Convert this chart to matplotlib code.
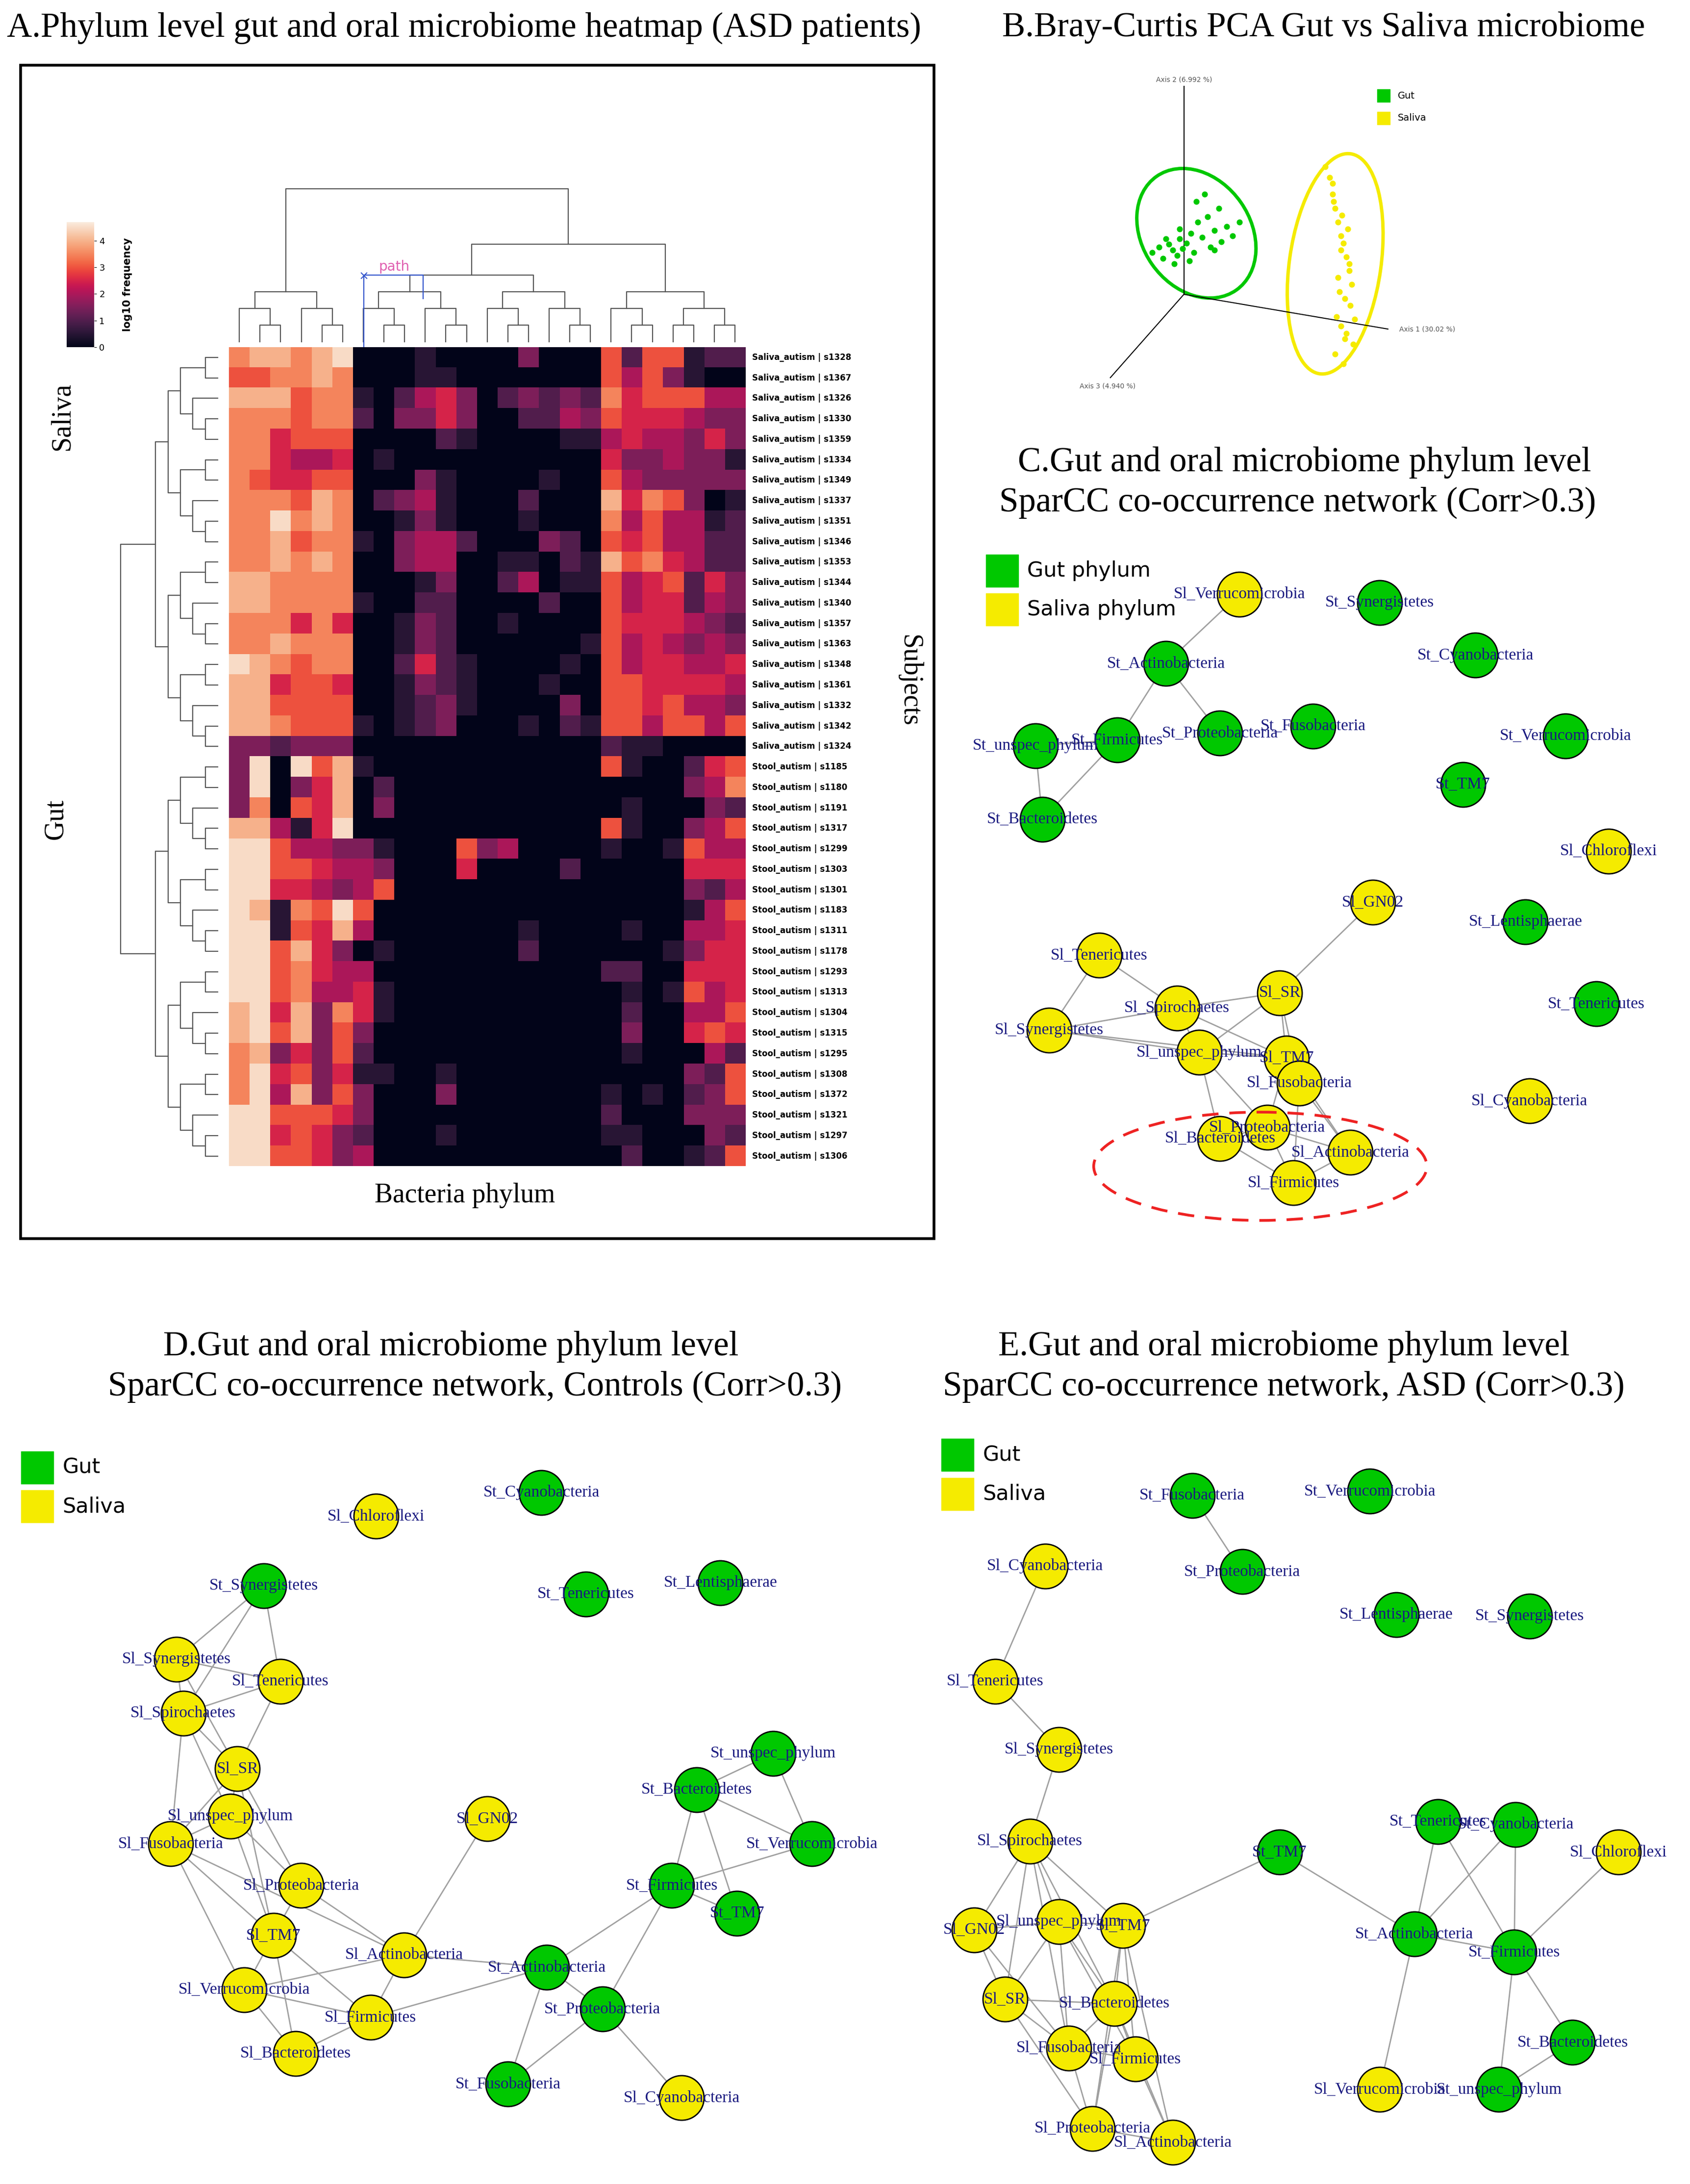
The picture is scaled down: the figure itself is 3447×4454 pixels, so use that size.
import numpy as np
import matplotlib.pyplot as plt
import seaborn as sns
from matplotlib.patches import Ellipse, Rectangle

# ---------------- data ----------------
row_labels = ["Saliva_autism | s1328", "Saliva_autism | s1367", "Saliva_autism | s1326", "Saliva_autism | s1330",
              "Saliva_autism | s1359", "Saliva_autism | s1334", "Saliva_autism | s1349", "Saliva_autism | s1337",
              "Saliva_autism | s1351", "Saliva_autism | s1346", "Saliva_autism | s1353", "Saliva_autism | s1344",
              "Saliva_autism | s1340", "Saliva_autism | s1357", "Saliva_autism | s1363", "Saliva_autism | s1348",
              "Saliva_autism | s1361", "Saliva_autism | s1332", "Saliva_autism | s1342", "Saliva_autism | s1324",
              "Stool_autism | s1185", "Stool_autism | s1180", "Stool_autism | s1191", "Stool_autism | s1317",
              "Stool_autism | s1299", "Stool_autism | s1303", "Stool_autism | s1301", "Stool_autism | s1183",
              "Stool_autism | s1311", "Stool_autism | s1178", "Stool_autism | s1293", "Stool_autism | s1313",
              "Stool_autism | s1304", "Stool_autism | s1315", "Stool_autism | s1295", "Stool_autism | s1308",
              "Stool_autism | s1372", "Stool_autism | s1321", "Stool_autism | s1297", "Stool_autism | s1306"]

# heat levels (0-9), log10 frequency = level * 0.5
heat_rows = [
    "788789000100003000" "6266122",
    "667787000110000000" "6463100",
    "888677102453023232" "7566644",
    "777677203353002243" "6555433",
    "775666000021000011" "4544353",
    "775445010000000000" "5334331",
    "765566000310000100" "6433333",
    "777687023410002000" "8576301",
    "779787001310001000" "7464412",
    "778677103442000320" "6564422",
    "778787003440011021" "8675422",
    "887777000130024011" "6456253",
    "887777100220000200" "6455243",
    "777575001320010000" "6555432",
    "778777001320000001" "6454343",
    "987677002521000010" "6455445",
    "885665001321000100" "6655554",
    "886666001231000030" "6656443",
    "887666101230001021" "6646646",
    "332333000000000000" "2110000",
    "390968100000000000" "6100256",
    "390358020000000000" "0000347",
    "370658030000000000" "0100032",
    "884159000000000000" "6100346",
    "996443310006340000" "1001644",
    "996654430005000020" "0000555",
    "995543460000000000" "0000324",
    "981769600000000000" "0000146",
    "991658400000001000" "0100445",
    "996853010000002000" "0001355",
    "996754400000000000" "2200555",
    "996744510000000000" "0101645",
    "895837510000000000" "0200446",
    "896836300000000000" "0300565",
    "783536200000000000" "0100042",
    "795635110010000000" "0000326",
    "794836300030000000" "1010236",
    "996665300000000000" "2000333",
    "995653200010000000" "1100032",
    "996653400000000000" "0200126",
]

gut_pts_x = [830, 835, 838, 842, 845, 848, 850, 852, 855, 858, 860, 863, 866, 870, 872, 875, 878, 880, 884, 888, 893, 857, 846, 862, 840, 868, 850, 875]
gut_pts_y = [182, 178, 186, 176, 180, 184, 172, 179, 175, 168, 182, 160, 171, 156, 178, 166, 150, 174, 163, 170, 160, 188, 190, 145, 172, 140, 165, 180]
sal_pts_x = [955, 958, 960, 962, 964, 966, 968, 970, 972, 974, 965, 969, 961, 967, 971, 973, 963, 966, 970, 975, 962, 968, 964, 972, 976, 960, 966, 969]
sal_pts_y = [120, 128, 140, 150, 160, 170, 175, 185, 195, 205, 210, 215, 145, 155, 165, 220, 228, 235, 240, 248, 255, 262, 200, 190, 230, 132, 180, 244]

# networks: name -> (x, y, group) ; G = gut (green), Y = saliva (yellow)
net_c = {
    "Sl_Verrucomicrobia": (893, 428, "Y"), "St_Synergistetes": (994, 434, "G"), "St_Actinobacteria": (840, 478, "G"),
    "St_Cyanobacteria": (1063, 472, "G"), "St_Firmicutes": (805, 533, "G"), "St_unspec_phylum": (746, 537, "G"),
    "St_Proteobacteria": (879, 528, "G"), "St_Fusobacteria": (946, 523, "G"), "St_Verrucomicrobia": (1128, 530, "G"),
    "St_TM7": (1054, 565, "G"), "St_Bacteroidetes": (751, 590, "G"), "Sl_Chloroflexi": (1159, 613, "Y"),
    "Sl_GN02": (989, 650, "Y"), "St_Lentisphaerae": (1099, 664, "G"), "Sl_Tenericutes": (792, 688, "Y"),
    "Sl_SR": (922, 715, "Y"), "Sl_Spirochaetes": (848, 726, "Y"), "St_Tenericutes": (1150, 723, "G"),
    "Sl_Synergistetes": (756, 742, "Y"), "Sl_unspec_phylum": (864, 758, "Y"), "Sl_TM7": (927, 762, "Y"),
    "Sl_Fusobacteria": (936, 780, "Y"), "Sl_Cyanobacteria": (1102, 793, "Y"), "Sl_Proteobacteria": (913, 812, "Y"),
    "Sl_Bacteroidetes": (879, 820, "Y"), "Sl_Actinobacteria": (973, 830, "Y"), "Sl_Firmicutes": (932, 852, "Y"),
}
edges_c = [
    ("Sl_Verrucomicrobia", "St_Actinobacteria"), ("St_Actinobacteria", "St_Firmicutes"), ("St_Actinobacteria", "St_Proteobacteria"),
    ("St_Firmicutes", "St_unspec_phylum"), ("St_unspec_phylum", "St_Bacteroidetes"), ("St_Firmicutes", "St_Bacteroidetes"),
    ("Sl_GN02", "Sl_SR"), ("Sl_Tenericutes", "Sl_Spirochaetes"), ("Sl_Tenericutes", "Sl_Synergistetes"),
    ("Sl_Spirochaetes", "Sl_SR"), ("Sl_Spirochaetes", "Sl_unspec_phylum"), ("Sl_Spirochaetes", "Sl_TM7"),
    ("Sl_Synergistetes", "Sl_unspec_phylum"), ("Sl_Synergistetes", "Sl_Spirochaetes"), ("Sl_unspec_phylum", "Sl_TM7"),
    ("Sl_unspec_phylum", "Sl_Proteobacteria"), ("Sl_unspec_phylum", "Sl_Bacteroidetes"), ("Sl_SR", "Sl_TM7"),
    ("Sl_SR", "Sl_Fusobacteria"), ("Sl_SR", "Sl_unspec_phylum"), ("Sl_TM7", "Sl_Proteobacteria"),
    ("Sl_TM7", "Sl_Actinobacteria"), ("Sl_Fusobacteria", "Sl_Actinobacteria"), ("Sl_Fusobacteria", "Sl_Firmicutes"),
    ("Sl_Proteobacteria", "Sl_Firmicutes"), ("Sl_Proteobacteria", "Sl_Bacteroidetes"), ("Sl_Proteobacteria", "Sl_Actinobacteria"),
    ("Sl_Bacteroidetes", "Sl_Firmicutes"), ("Sl_Actinobacteria", "Sl_Firmicutes"), ("Sl_Synergistetes", "Sl_TM7"),
]

net_d = {
    "Sl_Chloroflexi": (271, 1092, "Y"), "St_Cyanobacteria": (390, 1075, "G"), "St_Synergistetes": (190, 1142, "G"),
    "St_Tenericutes": (422, 1148, "G"), "St_Lentisphaerae": (519, 1140, "G"), "Sl_Synergistetes": (127, 1195, "Y"),
    "Sl_Tenericutes": (202, 1211, "Y"), "Sl_Spirochaetes": (132, 1234, "Y"), "Sl_SR": (171, 1274, "Y"),
    "St_unspec_phylum": (557, 1263, "G"), "St_Bacteroidetes": (502, 1289, "G"), "Sl_unspec_phylum": (166, 1308, "Y"),
    "Sl_GN02": (351, 1310, "Y"), "Sl_Fusobacteria": (123, 1328, "Y"), "St_Verrucomicrobia": (585, 1328, "G"),
    "Sl_Proteobacteria": (217, 1358, "Y"), "St_Firmicutes": (484, 1358, "G"), "St_TM7": (531, 1378, "G"),
    "Sl_TM7": (197, 1394, "Y"), "Sl_Actinobacteria": (291, 1408, "Y"), "St_Actinobacteria": (394, 1417, "G"),
    "Sl_Verrucomicrobia": (176, 1433, "Y"), "St_Proteobacteria": (434, 1447, "G"), "Sl_Firmicutes": (267, 1453, "Y"),
    "Sl_Bacteroidetes": (213, 1479, "Y"), "St_Fusobacteria": (366, 1501, "G"), "Sl_Cyanobacteria": (491, 1511, "Y"),
}
edges_d = [
    ("St_Synergistetes", "Sl_Synergistetes"), ("St_Synergistetes", "Sl_Spirochaetes"), ("St_Synergistetes", "Sl_Tenericutes"),
    ("Sl_Synergistetes", "Sl_Spirochaetes"), ("Sl_Synergistetes", "Sl_Tenericutes"), ("Sl_Synergistetes", "Sl_SR"),
    ("Sl_Spirochaetes", "Sl_SR"), ("Sl_Spirochaetes", "Sl_unspec_phylum"), ("Sl_Spirochaetes", "Sl_Fusobacteria"),
    ("Sl_Tenericutes", "Sl_SR"), ("Sl_Tenericutes", "Sl_Spirochaetes"), ("Sl_SR", "Sl_unspec_phylum"),
    ("Sl_SR", "Sl_Fusobacteria"), ("Sl_SR", "Sl_Proteobacteria"), ("Sl_SR", "Sl_TM7"),
    ("Sl_unspec_phylum", "Sl_Fusobacteria"), ("Sl_unspec_phylum", "Sl_Proteobacteria"), ("Sl_unspec_phylum", "Sl_TM7"),
    ("Sl_Fusobacteria", "Sl_TM7"), ("Sl_Fusobacteria", "Sl_Verrucomicrobia"), ("Sl_Fusobacteria", "Sl_Actinobacteria"),
    ("Sl_Proteobacteria", "Sl_TM7"), ("Sl_Proteobacteria", "Sl_Actinobacteria"), ("Sl_TM7", "Sl_Verrucomicrobia"),
    ("Sl_TM7", "Sl_Firmicutes"), ("Sl_TM7", "Sl_Bacteroidetes"), ("Sl_Verrucomicrobia", "Sl_Firmicutes"),
    ("Sl_Verrucomicrobia", "Sl_Bacteroidetes"), ("Sl_Firmicutes", "Sl_Bacteroidetes"), ("Sl_Actinobacteria", "Sl_Firmicutes"),
    ("Sl_Actinobacteria", "Sl_GN02"), ("Sl_Actinobacteria", "St_Actinobacteria"), ("Sl_Actinobacteria", "Sl_Verrucomicrobia"),
    ("Sl_Firmicutes", "St_Actinobacteria"), ("St_Actinobacteria", "St_Proteobacteria"), ("St_Actinobacteria", "St_Firmicutes"),
    ("St_Actinobacteria", "St_Fusobacteria"), ("St_Proteobacteria", "St_Fusobacteria"), ("St_Proteobacteria", "Sl_Cyanobacteria"),
    ("St_Proteobacteria", "St_Firmicutes"), ("St_Firmicutes", "St_Bacteroidetes"), ("St_Firmicutes", "St_TM7"),
    ("St_Bacteroidetes", "St_unspec_phylum"), ("St_Bacteroidetes", "St_TM7"), ("St_unspec_phylum", "St_Verrucomicrobia"),
    ("St_Verrucomicrobia", "St_Firmicutes"), ("St_Bacteroidetes", "St_Verrucomicrobia"),
]

net_e = {
    "St_Fusobacteria": (859, 1077, "G"), "St_Verrucomicrobia": (987, 1074, "G"), "Sl_Cyanobacteria": (753, 1128, "Y"),
    "St_Proteobacteria": (895, 1132, "G"), "St_Lentisphaerae": (1006, 1163, "G"), "St_Synergistetes": (1102, 1164, "G"),
    "Sl_Tenericutes": (717, 1211, "Y"), "Sl_Synergistetes": (763, 1260, "Y"), "St_Tenericutes": (1036, 1312, "G"),
    "St_Cyanobacteria": (1092, 1314, "G"), "Sl_Chloroflexi": (1166, 1334, "Y"), "Sl_Spirochaetes": (742, 1326, "Y"),
    "St_TM7": (922, 1334, "G"), "Sl_GN02": (702, 1390, "Y"), "Sl_unspec_phylum": (763, 1384, "Y"),
    "Sl_TM7": (809, 1387, "Y"), "St_Actinobacteria": (1019, 1393, "G"), "St_Firmicutes": (1091, 1406, "G"),
    "Sl_SR": (724, 1440, "Y"), "Sl_Bacteroidetes": (803, 1443, "Y"), "Sl_Fusobacteria": (770, 1475, "Y"),
    "Sl_Firmicutes": (818, 1483, "Y"), "St_Bacteroidetes": (1133, 1471, "G"), "Sl_Verrucomicrobia": (994, 1505, "Y"),
    "St_unspec_phylum": (1080, 1505, "G"), "Sl_Proteobacteria": (787, 1533, "Y"), "Sl_Actinobacteria": (845, 1543, "Y"),
}
edges_e = [
    ("St_Fusobacteria", "St_Proteobacteria"), ("Sl_Cyanobacteria", "Sl_Tenericutes"), ("Sl_Tenericutes", "Sl_Synergistetes"),
    ("Sl_Synergistetes", "Sl_Spirochaetes"), ("Sl_Spirochaetes", "Sl_GN02"), ("Sl_Spirochaetes", "Sl_unspec_phylum"),
    ("Sl_Spirochaetes", "Sl_TM7"), ("Sl_Spirochaetes", "Sl_SR"), ("Sl_Spirochaetes", "Sl_Bacteroidetes"),
    ("Sl_Spirochaetes", "Sl_Fusobacteria"), ("Sl_GN02", "Sl_unspec_phylum"), ("Sl_GN02", "Sl_SR"), ("Sl_GN02", "Sl_Fusobacteria"),
    ("Sl_unspec_phylum", "Sl_TM7"), ("Sl_unspec_phylum", "Sl_SR"), ("Sl_unspec_phylum", "Sl_Bacteroidetes"),
    ("Sl_unspec_phylum", "Sl_Fusobacteria"), ("Sl_unspec_phylum", "Sl_Firmicutes"), ("Sl_TM7", "St_TM7"),
    ("Sl_TM7", "Sl_Bacteroidetes"), ("Sl_TM7", "Sl_Firmicutes"), ("Sl_TM7", "Sl_Actinobacteria"), ("Sl_TM7", "Sl_Proteobacteria"),
    ("Sl_SR", "Sl_Fusobacteria"), ("Sl_SR", "Sl_Bacteroidetes"), ("Sl_SR", "Sl_Proteobacteria"),
    ("Sl_Bacteroidetes", "Sl_Fusobacteria"), ("Sl_Bacteroidetes", "Sl_Firmicutes"), ("Sl_Bacteroidetes", "Sl_Proteobacteria"),
    ("Sl_Bacteroidetes", "Sl_Actinobacteria"), ("Sl_Fusobacteria", "Sl_Firmicutes"), ("Sl_Fusobacteria", "Sl_Proteobacteria"),
    ("Sl_Firmicutes", "Sl_Actinobacteria"), ("Sl_Proteobacteria", "Sl_Actinobacteria"), ("St_TM7", "St_Actinobacteria"),
    ("St_Tenericutes", "St_Actinobacteria"), ("St_Cyanobacteria", "St_Actinobacteria"), ("St_Tenericutes", "St_Firmicutes"),
    ("St_Cyanobacteria", "St_Firmicutes"), ("St_Actinobacteria", "St_Firmicutes"), ("St_Actinobacteria", "Sl_Verrucomicrobia"),
    ("St_Firmicutes", "Sl_Chloroflexi"), ("St_Firmicutes", "St_Bacteroidetes"), ("St_Firmicutes", "St_unspec_phylum"),
    ("St_Bacteroidetes", "St_unspec_phylum"),
]

GREEN = "#00c800"
YELLOW = "#f5eb00"
TITLE_FONT = "Liberation Serif"
TITLE_SIZE = 51

W, H = 1218, 1573
fig = plt.figure(figsize=(34.48, 44.54), dpi=100)
ov = fig.add_axes([0, 0, 1, 1])
ov.set_xlim(0, W)
ov.set_ylim(H, 0)
ov.axis("off")

def fx(x):
    return x / W

def fy(y):
    return 1 - y / H

# ---------------- panel A: heatmap ----------------
mat = np.array([[int(c) * 0.5 for c in r] for r in heat_rows])
nrow, ncol = mat.shape
hx0, hx1, hy0, hy1 = 165, 537, 250, 840
ax = fig.add_axes([fx(hx0), fy(hy1), fx(hx1 - hx0), fy(hy0) - fy(hy1)])
cmap = sns.color_palette("rocket", as_cmap=True)
im = ax.imshow(mat, cmap=cmap, vmin=0, vmax=4.7, aspect="auto", interpolation="nearest")
ax.set_xticks([])
ax.set_yticks([])
for s in ax.spines.values():
    s.set_visible(False)

rh = (hy1 - hy0) / nrow
cw = (hx1 - hx0) / ncol
for i, lab in enumerate(row_labels):
    ov.text(hx1 + 5, hy0 + (i + 0.5) * rh, lab, fontsize=12, fontweight="bold", va="center", ha="left")

def dendro(lo, hi, pos, draw):
    # simple nested split tree; returns (center, height)
    if hi - lo == 1:
        return pos(lo), 0
    mid = (lo + hi) // 2
    c1, h1 = dendro(lo, mid, pos, draw)
    c2, h2 = dendro(mid, hi, pos, draw)
    h = max(h1, h2) + 1
    draw(c1, h1, c2, h2, h)
    return (c1 + c2) / 2, h

def row_draw(base, scale):
    def d(c1, h1, c2, h2, h):
        x = base - h * scale
        ov.plot([base - h1 * scale, x, x, base - h2 * scale], [c1, c1, c2, c2], color="#555555", lw=1.6)
    return d

rpos = lambda i: hy0 + (i + 0.5) * rh
cs, chs = dendro(0, 20, rpos, row_draw(hx0 - 8, 9))
cg, chg = dendro(20, 40, rpos, row_draw(hx0 - 8, 9))
xt = hx0 - 8 - 70
ov.plot([hx0 - 8 - chs * 9, xt, xt, hx0 - 8 - chg * 9], [cs, cs, cg, cg], color="#555555", lw=1.6)

def col_draw(base, scale):
    def d(c1, h1, c2, h2, h):
        y = base - h * scale
        ov.plot([c1, c1, c2, c2], [base - h1 * scale, y, y, base - h2 * scale], color="#555555", lw=1.6)
    return d

cpos = lambda j: hx0 + (j + 0.5) * cw
groups = [(0, 6), (6, 18), (18, 25)]
tops = []
for lo, hi in groups:
    tops.append(dendro(lo, hi, cpos, col_draw(hy0 - 4, 12)))
ya = hy0 - 4 - 70
ov.plot([tops[1][0], tops[1][0], tops[2][0], tops[2][0]], [hy0 - 4 - tops[1][1] * 12, ya, ya, hy0 - 4 - tops[2][1] * 12], color="#555555", lw=1.6)
mid12 = (tops[1][0] + tops[2][0]) / 2
yb = hy0 - 4 - 110
ov.plot([tops[0][0], tops[0][0], mid12, mid12], [hy0 - 4 - tops[0][1] * 12, yb, yb, ya], color="#555555", lw=1.6)
ov.plot([262, 262, 305, 305], [250, 198, 198, 215], color="#3355cc", lw=1.6)
ov.text(262, 199, "×", color="#3355cc", fontsize=18, ha="center", va="center")
ov.text(284, 192, "path", color="#e060b0", fontsize=20, ha="center", va="center")

cax = fig.add_axes([fx(48), fy(250), fx(20), fy(160) - fy(250)])
cb = fig.colorbar(im, cax=cax, ticks=[0, 1, 2, 3, 4])
cb.ax.tick_params(labelsize=13)
cb.outline.set_visible(False)
cax.yaxis.set_ticks_position("right")
ov.text(92, 205, "log10 frequency", rotation=90, fontsize=15, fontweight="bold", ha="center", va="center")

ov.add_patch(Rectangle((15, 47), 658, 845, fill=False, lw=4, edgecolor="black"))
ov.text(45, 300, "Saliva", rotation=90, fontsize=40, family=TITLE_FONT, ha="center", va="center")
ov.text(40, 590, "Gut", rotation=90, fontsize=40, family=TITLE_FONT, ha="center", va="center")
ov.text(655, 490, "Subjects", rotation=-90, fontsize=40, family=TITLE_FONT, ha="center", va="center")
ov.text(335, 861, "Bacteria phylum", fontsize=40, family=TITLE_FONT, ha="center", va="center")
ov.text(5, 20, "A.Phylum level gut and oral microbiome heatmap (ASD patients)", fontsize=TITLE_SIZE,
        family=TITLE_FONT, ha="left", va="center")

# ---------------- panel B: PCA ----------------
ov.text(722, 20, "B.Bray-Curtis PCA Gut vs Saliva microbiome", fontsize=TITLE_SIZE, family=TITLE_FONT, ha="left", va="center")
o = (853, 212)
ov.plot([o[0], 853], [o[1], 62], color="black", lw=1.5)
ov.plot([o[0], 1000], [o[1], 237], color="black", lw=1.5)
ov.plot([o[0], 800], [o[1], 272], color="black", lw=1.5)
ov.text(853, 60, "Axis 2 (6.992 %)", fontsize=10, color="#555555", ha="center", va="bottom")
ov.text(1008, 237, "Axis 1 (30.02 %)", fontsize=10, color="#555555", ha="left", va="center")
ov.text(798, 278, "Axis 3 (4.940 %)", fontsize=10, color="#555555", ha="center", va="center")
ov.add_patch(Ellipse((862, 168), 78, 100, angle=-35, fill=False, edgecolor=GREEN, lw=5))
ov.add_patch(Ellipse((962, 190), 66, 160, angle=8, fill=False, edgecolor=YELLOW, lw=5))
ov.scatter(gut_pts_x, gut_pts_y, s=60, color=GREEN, zorder=3)
ov.scatter(sal_pts_x, sal_pts_y, s=60, color=YELLOW, zorder=3)
ov.scatter([997], [69], marker="s", s=350, color=GREEN)
ov.scatter([997], [85], marker="s", s=350, color=YELLOW)
ov.text(1007, 69, "Gut", fontsize=14, va="center")
ov.text(1007, 85, "Saliva", fontsize=14, va="center")

# ---------------- networks ----------------
def draw_net(nodes, edges):
    for a, b in edges:
        ov.plot([nodes[a][0], nodes[b][0]], [nodes[a][1], nodes[b][1]], color="#a0a0a0", lw=2, zorder=2)
    for name, (x, y, g) in nodes.items():
        ov.scatter([x], [y], s=4300, color=GREEN if g == "G" else YELLOW, edgecolor="black", linewidth=2, zorder=3)
    for name, (x, y, g) in nodes.items():
        ov.text(x, y, name, fontsize=24, family=TITLE_FONT, color="#1a1a80", ha="center", va="center", zorder=4)

def legend(x, y, labels):
    for k, (lab, col) in enumerate(zip(labels, [GREEN, YELLOW])):
        ov.scatter([x], [y + 28 * k], marker="s", s=2200, color=col)
        ov.text(x + 18, y + 28 * k, lab, fontsize=31, va="center", ha="left")

ov.text(940, 333, "C.Gut and oral microbiome phylum level", fontsize=TITLE_SIZE, family=TITLE_FONT, ha="center", va="center")
ov.text(935, 362, "SparCC co-occurrence network (Corr>0.3)", fontsize=TITLE_SIZE, family=TITLE_FONT, ha="center", va="center")
legend(722, 411, ["Gut phylum", "Saliva phylum"])
draw_net(net_c, edges_c)
ov.add_patch(Ellipse((908, 840), 240, 78, fill=False, edgecolor="#ee2222", lw=4, ls=(0, (6, 4)), zorder=5))

ov.text(325, 970, "D.Gut and oral microbiome phylum level", fontsize=TITLE_SIZE, family=TITLE_FONT, ha="center", va="center")
ov.text(342, 999, "SparCC co-occurrence network, Controls (Corr>0.3)", fontsize=TITLE_SIZE, family=TITLE_FONT, ha="center", va="center")
legend(27, 1057, ["Gut", "Saliva"])
draw_net(net_d, edges_d)

ov.text(925, 970, "E.Gut and oral microbiome phylum level", fontsize=TITLE_SIZE, family=TITLE_FONT, ha="center", va="center")
ov.text(925, 999, "SparCC co-occurrence network, ASD (Corr>0.3)", fontsize=TITLE_SIZE, family=TITLE_FONT, ha="center", va="center")
legend(690, 1048, ["Gut", "Saliva"])
draw_net(net_e, edges_e)

fig.savefig("out.png", dpi=100)
